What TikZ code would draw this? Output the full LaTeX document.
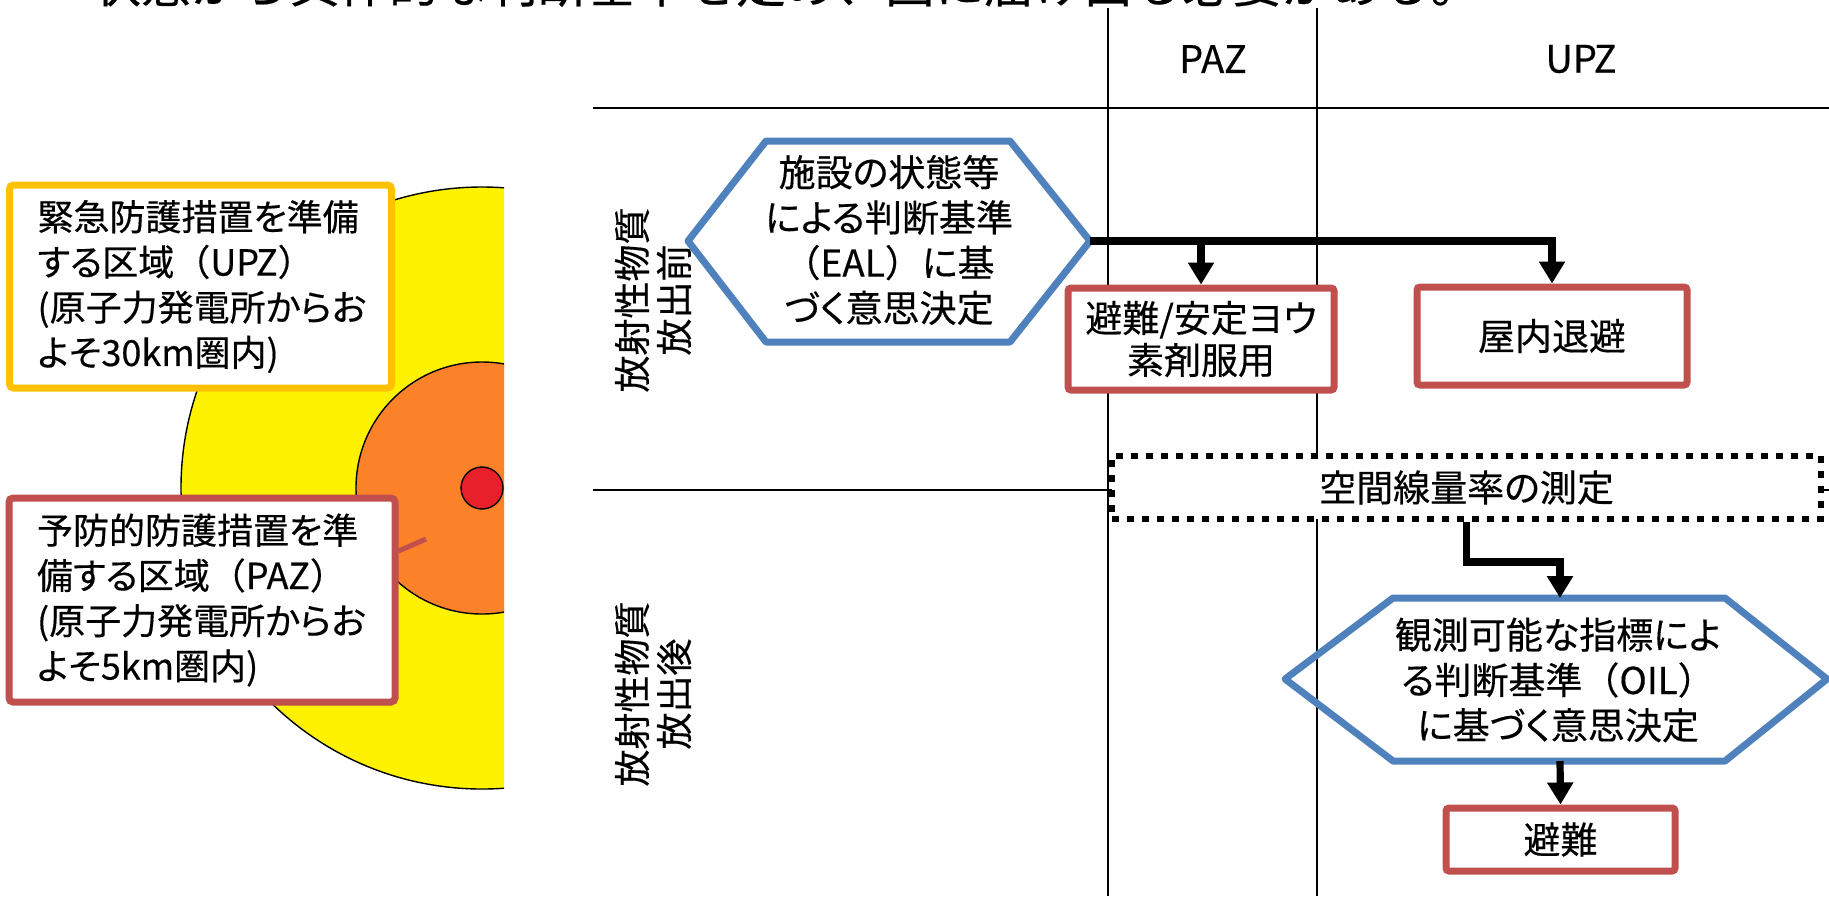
\documentclass[tikz,border=0pt]{standalone}
\usepackage{fontspec}
\setmainfont[RawFeature=+palt,FakeBold=0.4]{Noto Sans CJK JP}
\newfontfamily\fullwidth[FakeBold=0.4]{Noto Sans CJK JP}
\usetikzlibrary{arrows.meta}
\definecolor{hexblue}{HTML}{4F81BD}
\definecolor{boxred}{HTML}{C0504D}
\definecolor{goldline}{HTML}{FFC000}
\definecolor{zoneyellow}{HTML}{FFF200}
\definecolor{zoneorange}{HTML}{FC8229}
\definecolor{zonered}{HTML}{E8202A}
\newcommand{\fwl}{{\fullwidth （}}
\newcommand{\fwr}{{\fullwidth ）}}
\begin{document}
\begin{tikzpicture}[x=0.5pt,y=-0.5pt,
  gridline/.style={line width=1pt,draw=black},
  zoneline/.style={line width=0.7pt,draw=black},
  zonebox/.style={fill=white,line width=3.5pt,rounded corners=2pt,align=left,inner xsep=14pt,inner ysep=0pt,font=\fontsize{18}{22.6}\selectfont},
  hdr/.style={inner sep=0pt,font=\fontsize{19}{22}\selectfont},
  sidelbl/.style={rotate=90,inner sep=0pt,align=center,font=\fontsize{18.5}{21}\selectfont},
  hextxt/.style={inner sep=0pt,align=center,font=\fontsize{18.5}{22.6}\selectfont},
  hexline/.style={draw=hexblue,line width=3.5pt,line join=round},
  actbox/.style={draw=boxred,fill=white,line width=3.5pt,rounded corners=1.5pt,inner sep=0pt,align=center,font=\fontsize{18.5}{21}\selectfont},
  measbox/.style={draw=black,fill=white,line width=3pt,dash pattern=on 3.5pt off 4pt,inner sep=0pt,font=\fontsize{18.5}{21}\selectfont},
  flowline/.style={line width=3.6pt,draw=black},
  flowarrow/.style={flowline,-{Triangle[width=12.5pt,length=11pt]}},
]
\useasboundingbox (0,0) rectangle (1829,896);
\clip (0,0) rectangle (1829,896);
% cut-off heading line
\node[anchor=base west,inner sep=0pt,font=\fullwidth\fontsize{24.8}{30}\selectfont] (head) at (91,2.5) {状態から具体的な判断基準を定め、国に届け出る必要がある。};
% table lines
\draw[gridline] (1108,8) -- (1108,896);
\draw[gridline] (1317,8) -- (1317,896);
\draw[gridline] (593,108) -- (1829,108);
\draw[gridline] (593,490) -- (1829,490);
% zones
\begin{scope}
\clip (0,0) rectangle (504,896);
\filldraw[fill=zoneyellow,zoneline] (482,488) circle[radius=150.5pt];
\filldraw[fill=zoneorange,zoneline] (482,488) circle[radius=63pt];
\filldraw[fill=zonered,zoneline] (482,488) circle[radius=10.5pt];
\end{scope}
\node[zonebox,draw=goldline,text width=163pt,minimum height=101.5pt] (upz) at (200.5,286.5) {緊急防護措置を準備\\する区域\fwl UPZ\fwr\\(原子力発電所からお\\よそ30km圏内)};
\node[zonebox,draw=boxred,text width=165pt,minimum height=102pt] (paz) at (202,600) {予防的防護措置を準\\備する区域\fwl PAZ\fwr\\(原子力発電所からお\\よそ5km圏内)};
\coordinate (pazptr) at (426,539);
\draw[boxred,line width=2.5pt] ([yshift=24.5pt]paz.east) -- (pazptr);
% headers
\node[hdr] (pazh) at (1213,59) {PAZ};
\node[hdr] (upzh) at (1581,59) {UPZ};
\node[sidelbl] (pre) at (653,300) {放射性物質\\放出前};
\node[sidelbl] (post) at (653,694) {放射性物質\\放出後};
% hexagon EAL
\coordinate (hAl) at (688,241);
\coordinate (hAtl) at (766,141);
\coordinate (hAtr) at (1010,141);
\coordinate (hAr) at (1090,241);
\coordinate (hAbr) at (1010,342);
\coordinate (hAbl) at (766,342);
\draw[hexline,fill=white] (hAl) -- (hAtl) -- (hAtr) -- (hAr) -- (hAbr) -- (hAbl) -- cycle;
\node[hextxt] (eal) at (889,240) {施設の状態等\\による判断基準\\\fwl EAL\fwr に基\\づく意思決定};
% hexagon OIL
\coordinate (hBl) at (1285,679);
\coordinate (hBtl) at (1393,598);
\coordinate (hBt) at (1560,598);
\coordinate (hBtr) at (1725,598);
\coordinate (hBr) at (1827,679);
\coordinate (hBbr) at (1725,761);
\coordinate (hBb) at (1560,761);
\coordinate (hBbl) at (1393,761);
\draw[hexline] (hBl) -- (hBtl) -- (hBtr) -- (hBr) -- (hBbr) -- (hBbl) -- cycle;
\node[hextxt] (oil) at (1558,680) {観測可能な指標によ\\る判断基準\fwl OIL\fwr\\に基づく意思決定};
% action boxes
\node[actbox,minimum width=133pt,minimum height=51pt] (evacA) at (1201,339) {避難/安定ヨウ\\素剤服用};
\node[actbox,minimum width=135pt,minimum height=49pt] (shelter) at (1552,336) {屋内退避};
\node[actbox,minimum width=114.5pt,minimum height=31.5pt] (evacB) at (1560.5,839.5) {避難};
\node[measbox,minimum width=354.5pt,minimum height=31.5pt] (meas) at (1466.5,487.5) {空間線量率の測定};
% connectors
\draw[flowarrow] (hAr) -| (shelter.north);
\draw[flowarrow] (hAr -| evacA.north) -- (evacA.north);
\draw[flowarrow] (meas.south) -- ++(0,40) -| (hBt);
\draw[flowarrow] (hBb) -- (evacB.north);
\end{tikzpicture}
\end{document}
